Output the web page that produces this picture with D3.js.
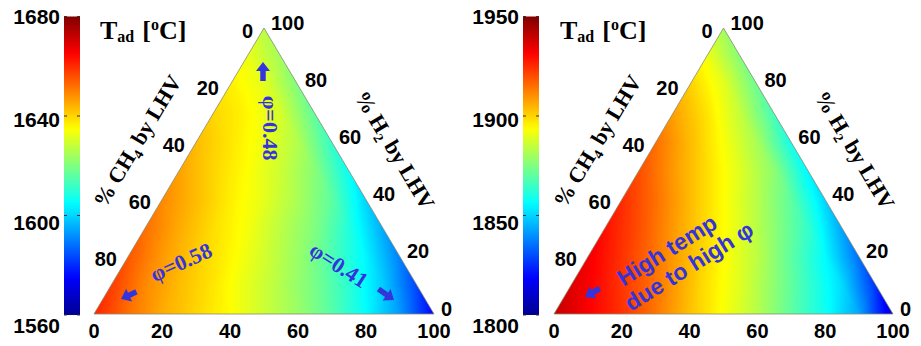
<!DOCTYPE html>
<html>
<head>
<meta charset="utf-8">
<script src="https://cdn.jsdelivr.net/npm/d3@7"></script>
<style>
  body { margin: 0; background: #fff; }
  svg { display: block; }
</style>
</head>
<body>
<svg id="chart" width="921" height="346"></svg>
<script>
// Adiabatic flame temperature over the fuel-composition triangle.
// Each grid row is a % H2 level (0..100 step 10); entries in a row run along
// the bottom axis from 0 to (100 - H2) in steps of 10.
const h2Levels = [0, 10, 20, 30, 40, 50, 60, 70, 80, 90, 100];

const tadLeft = [
  [1661, 1652, 1645, 1640, 1635, 1629, 1623, 1615, 1605, 1593, 1575],
  [1658, 1649, 1643, 1638, 1632, 1626, 1619, 1610, 1599, 1583],
  [1655, 1647, 1641, 1636, 1630, 1623, 1614, 1604, 1590],
  [1652, 1645, 1639, 1634, 1627, 1620, 1609, 1595],
  [1649, 1643, 1637, 1632, 1625, 1616, 1600],
  [1646, 1640, 1635, 1629, 1621, 1606],
  [1643, 1638, 1633, 1626, 1611],
  [1640, 1636, 1630, 1616],
  [1637, 1632, 1620],
  [1633, 1624],
  [1627]
];

const tadRight = [
  [1940, 1932, 1924, 1914, 1903, 1893, 1883, 1870, 1858, 1843, 1812],
  [1936, 1928, 1919, 1909, 1898, 1889, 1877, 1864, 1851, 1826],
  [1933, 1924, 1914, 1904, 1894, 1884, 1870, 1856, 1835],
  [1929, 1920, 1909, 1899, 1889, 1877, 1864, 1843],
  [1925, 1915, 1904, 1894, 1883, 1870, 1850],
  [1920, 1909, 1899, 1889, 1877, 1855],
  [1915, 1904, 1893, 1881, 1859],
  [1908, 1898, 1885, 1866],
  [1901, 1890, 1872],
  [1892, 1876],
  [1880]
];

const rangeLeft = [1560, 1680];
const rangeRight = [1800, 1950];
const cbTicksLeft = [1560, 1600, 1640, 1680];
const cbTicksRight = [1800, 1850, 1900, 1950];

const bottomTicks = [0, 20, 40, 60, 80, 100];
const ch4Ticks = [0, 20, 40, 60, 80];
const h2Ticks = [0, 20, 40, 60, 80, 100];

const notesLeft = ["\u03c6=0.58", "\u03c6=0.48", "\u03c6=0.41"];
const notesRight = ["High temp", "due to high \u03c6"];

// MATLAB "jet" colour map
const jetStops = [0, 0.125, 0.375, 0.625, 0.875, 1];
const jetColors = ["#000090", "#0000ff", "#00ffff", "#ffff00", "#ff0000", "#800000"];

const NUM_FONT = "'Liberation Sans', Arial, sans-serif";
const SERIF = "'Liberation Serif', 'Times New Roman', serif";
const NOTE_COLOR = "#3434dc";
const NUM_SIZE = 20;

const svg = d3.select("#chart");

function jetScale(range) {
  const [lo, hi] = range;
  return d3.scaleLinear()
    .domain(jetStops.map(s => lo + s * (hi - lo)))
    .range(jetColors)
    .interpolate(d3.interpolateRgb)
    .clamp(true);
}

// piecewise-linear value on the triangular grid; t = bottom-axis %, h = % H2
function gridValue(grid, t, h) {
  const i = Math.max(0, Math.min(10, h / 10));
  const j = Math.max(0, Math.min(10 - i, t / 10));
  const i0 = Math.min(9, Math.floor(i));
  const j0 = Math.floor(j);
  const g = (a, b) => {
    const row = grid[Math.min(a, 10)];
    return row[Math.max(0, Math.min(b, row.length - 1))];
  };
  const fi = i - i0, fj = j - j0;
  if (fi + fj <= 1) {
    const v00 = g(i0, j0);
    return v00 + fi * (g(i0 + 1, j0) - v00) + fj * (g(i0, j0 + 1) - v00);
  }
  const v11 = g(i0 + 1, j0 + 1);
  return v11 + (1 - fi) * (g(i0, j0 + 1) - v11) + (1 - fj) * (g(i0 + 1, j0) - v11);
}

function arrowPath(len) {
  const hl = 9, hw = 14, sw = 5.5;
  return `M0,0L${-hl},${-hw / 2}L${-hl},${-sw / 2}L${-len},${-sw / 2}` +
         `L${-len},${sw / 2}L${-hl},${sw / 2}L${-hl},${hw / 2}Z`;
}

function drawPanel(cfg) {
  const g = svg.append("g");
  const color = jetScale(cfg.range);

  // composition scales: x position = bottom% + H2%/2, y position = H2%
  const xs = d3.scaleLinear().domain([0, 100]).range([cfg.x0, cfg.x1]);
  const ys = d3.scaleLinear().domain([0, 100]).range([cfg.yBase, cfg.yTop]);
  const pt = (t, h) => [xs(t + h / 2), ys(h)];

  // ---- colour field rendered to a canvas image ----
  const [lo, hi] = cfg.range;
  const lut = d3.range(512).map(k => d3.rgb(color(lo + (k / 511) * (hi - lo))));
  const bx = Math.floor(cfg.x0) - 1, by = Math.floor(cfg.yTop) - 1;
  const bw = Math.ceil(cfg.x1) - bx + 2, bh = Math.ceil(cfg.yBase) - by + 2;
  const canvas = document.createElement("canvas");
  canvas.width = bw; canvas.height = bh;
  const ctx = canvas.getContext("2d");
  const img = ctx.createImageData(bw, bh);
  for (let py = 0; py < bh; py++) {
    const h = Math.max(0, Math.min(100, ys.invert(by + py + 0.5)));
    for (let px = 0; px < bw; px++) {
      const X = xs.invert(bx + px + 0.5);
      const t = Math.max(0, Math.min(100 - h, X - h / 2));
      const v = gridValue(cfg.grid, t, h);
      const k = Math.round((v - lo) / (hi - lo) * 511);
      const c = lut[Math.max(0, Math.min(511, k))];
      const o = (py * bw + px) * 4;
      img.data[o] = c.r; img.data[o + 1] = c.g; img.data[o + 2] = c.b; img.data[o + 3] = 255;
    }
  }
  ctx.putImageData(img, 0, 0);

  const tri = [pt(0, 0), pt(100, 0), pt(0, 100)];
  const clipId = "tri-" + cfg.id;
  svg.append("defs").append("clipPath").attr("id", clipId)
    .append("polygon").attr("points", tri.map(p => p.join(",")).join(" "));
  g.append("image")
    .attr("x", bx).attr("y", by).attr("width", bw).attr("height", bh)
    .attr("preserveAspectRatio", "none")
    .attr("href", canvas.toDataURL())
    .attr("clip-path", `url(#${clipId})`);
  g.append("polygon")
    .attr("points", tri.map(p => p.join(",")).join(" "))
    .attr("fill", "none").attr("stroke", "#8a8a70").attr("stroke-width", 0.8);

  // ---- colour bar ----
  const cb = d3.scaleLinear().domain(cfg.range).range([cfg.cbBottom, cfg.cbTop]);
  const gradId = "grad-" + cfg.id;
  const grad = svg.append("defs").append("linearGradient").attr("id", gradId)
    .attr("x1", 0).attr("y1", 1).attr("x2", 0).attr("y2", 0);
  d3.range(0, 1.0001, 0.02).forEach(s => {
    grad.append("stop").attr("offset", s).attr("stop-color", color(lo + s * (hi - lo)));
  });
  g.append("rect")
    .attr("x", cfg.cbX).attr("y", cb(hi))
    .attr("width", cfg.cbW).attr("height", cb(lo) - cb(hi))
    .attr("fill", `url(#${gradId})`);
  g.selectAll(".cbtick").data(cfg.cbTicks).join("path")
    .attr("d", d => `M${cfg.cbX},${cb(d)}h3M${cfg.cbX + cfg.cbW},${cb(d)}h-3`)
    .attr("stroke", "#333").attr("stroke-width", 1);
  const cbLabelY = d3.scaleLinear().domain(cfg.range).range([325, 16]);
  g.selectAll(".cblabel").data(cfg.cbTicks).join("text")
    .attr("x", cfg.cbX - 4).attr("y", d => cbLabelY(d) + 7.5)
    .attr("text-anchor", "end")
    .attr("font-family", NUM_FONT).attr("font-weight", "bold").attr("font-size", 21)
    .text(d => d);

  // colour bar title
  const title = g.append("text")
    .attr("x", cfg.titleX).attr("y", 39)
    .attr("font-family", SERIF).attr("font-weight", "bold").attr("font-size", 26);
  title.append("tspan").text("T");
  title.append("tspan").attr("font-size", 16).attr("dy", 3).text("ad");
  title.append("tspan").attr("dy", -3).attr("dx", 8).text("[");
  title.append("tspan").attr("font-size", 16).attr("dy", -9).text("o");
  title.append("tspan").attr("dy", 9).text("C]");

  // ---- ternary tick labels ----
  const num = sel => sel.attr("font-family", NUM_FONT).attr("font-weight", "bold").attr("font-size", NUM_SIZE);
  g.selectAll(".bt").data(bottomTicks).join("text")
    .attr("x", d => pt(d, 0)[0]).attr("y", cfg.yBase + 23.5)
    .attr("text-anchor", "middle").call(num).text(d => d);
  g.selectAll(".lt").data(ch4Ticks).join("text")
    .attr("x", d => pt(0, 100 - d)[0] - 11).attr("y", d => pt(0, 100 - d)[1] + 9.5)
    .attr("text-anchor", "end").call(num).text(d => d);
  g.selectAll(".rt").data(h2Ticks).join("text")
    .attr("x", d => pt(100 - d, d)[0] + 7).attr("y", d => pt(100 - d, d)[1] + 1.5)
    .attr("text-anchor", "start").call(num).text(d => d);

  // ---- axis titles ----
  const axisTitle = (cx, cy, ang, name, sub) => {
    const tx = g.append("text")
      .attr("transform", `translate(${cx},${cy}) rotate(${ang})`)
      .attr("text-anchor", "middle").attr("dy", "0.35em")
      .attr("font-family", SERIF).attr("font-weight", "bold").attr("font-size", 22);
    tx.append("tspan").text("% " + name);
    tx.append("tspan").attr("font-size", 14).attr("dy", 5).text(sub);
    tx.append("tspan").attr("dy", -5).text(" by LHV");
  };
  axisTitle(cfg.x0 + 43, 141, -59, "CH", "4");
  axisTitle(cfg.x0 + 301, 150, 59, "H", "2");

  return { g, pt };
}

function note(g, text, cx, cy, ang, font, size) {
  g.append("text")
    .attr("transform", `translate(${cx},${cy}) rotate(${ang})`)
    .attr("text-anchor", "middle").attr("dy", "0.35em")
    .attr("font-family", font).attr("font-weight", "bold").attr("font-size", size)
    .attr("fill", NOTE_COLOR).text(text);
}
function arrow(g, x, y, ang, len) {
  g.append("path")
    .attr("transform", `translate(${x},${y}) rotate(${ang})`)
    .attr("d", arrowPath(len)).attr("fill", NOTE_COLOR);
}

const left = drawPanel({
  id: "a", grid: tadLeft, range: rangeLeft, cbTicks: cbTicksLeft,
  x0: 94, x1: 434, yBase: 314, yTop: 28,
  cbX: 64, cbW: 16, cbTop: 16.5, cbBottom: 315, titleX: 100
});
note(left.g, notesLeft[0], 181, 262, -24, SERIF, 22);
note(left.g, notesLeft[1], 271, 128, 90, SERIF, 22);
note(left.g, notesLeft[2], 339, 265, 33, SERIF, 22);
arrow(left.g, 121, 299, 155, 17);
arrow(left.g, 263, 62, -90, 19);
arrow(left.g, 394, 300, 35, 19);

const right = drawPanel({
  id: "b", grid: tadRight, range: rangeRight, cbTicks: cbTicksRight,
  x0: 554, x1: 893, yBase: 314, yTop: 28,
  cbX: 523, cbW: 16, cbTop: 16.5, cbBottom: 315, titleX: 560
});
note(right.g, notesRight[0], 667, 250, -32, NUM_FONT, 23);
note(right.g, notesRight[1], 689, 266, -32, NUM_FONT, 23);
arrow(right.g, 585, 297, 150, 17);
</script>
</body>
</html>
